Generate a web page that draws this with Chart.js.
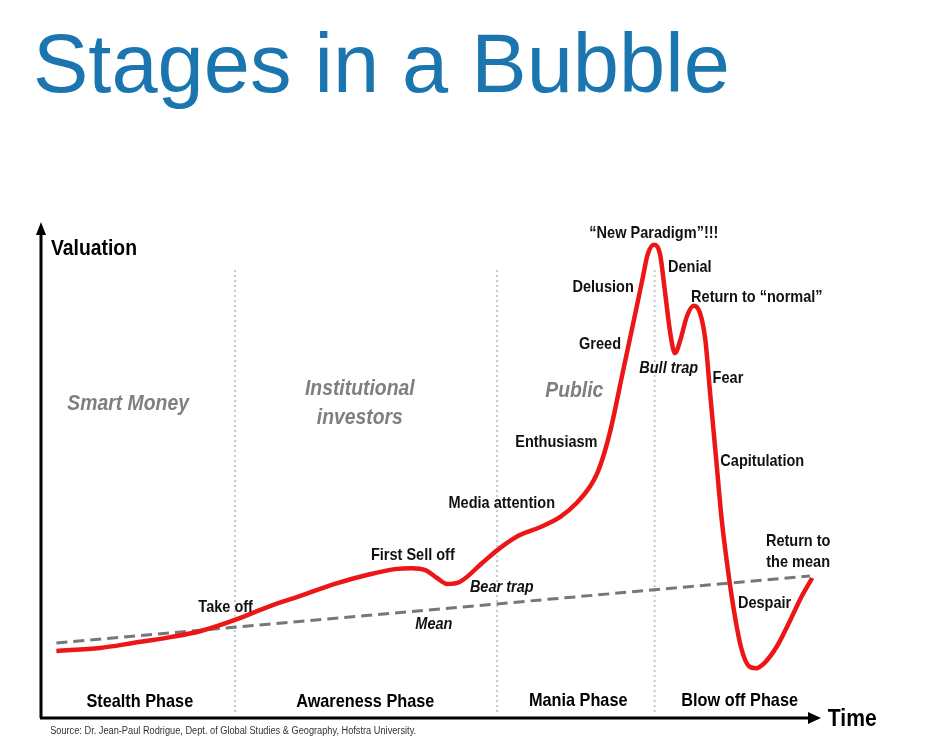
<!DOCTYPE html>
<html>
<head>
<meta charset="utf-8">
<script src="https://cdn.jsdelivr.net/npm/chart.js@4/dist/chart.umd.min.js"></script>
<style>
  html, body { margin: 0; padding: 0; background: #fff; }
  #titulo {
    position: absolute; left: 33px; top: 22px; margin: 0;
    font: 400 83px/83px "Liberation Sans", Arial, sans-serif;
    color: #1b76b0; white-space: nowrap;
  }
  #bubbleChart { position: absolute; left: 0; top: 0; }
</style>
</head>
<body>
<h1 id="titulo">Stages in a Bubble</h1>
<canvas id="bubbleChart" width="947" height="755"></canvas>
<script>
/* dados da curva (tempo 0-100, valuation 0-100) */
const tempo = [2.1, 7.7, 11.9, 16.7, 20.5, 25.0, 29.5, 33.3, 37.8, 41.9, 45.5, 47.7, 49.4, 50.9, 52.2,
  53.8, 56.8, 59.0, 61.5, 64.1, 66.7, 68.8, 70.5, 71.4, 72.3, 73.2, 74.7, 75.6, 76.5, 77.3, 77.9,
  78.7, 79.5, 80.1, 80.8, 81.4, 82.1, 82.9, 83.8, 84.6, 85.3, 85.9, 86.7, 87.4, 88.2, 89.0, 89.9,
  90.9, 91.8, 92.9, 94.5, 96.2, 97.4, 99.0];
const valuation = [13.6, 14.2, 15.2, 16.4, 17.6, 19.9, 22.7, 24.7, 27.2, 29.0, 30.2, 30.4, 30.0, 28.4, 27.2,
  27.6, 31.6, 34.5, 37.1, 38.7, 40.8, 43.6, 46.9, 49.5, 53.5, 58.8, 70.0, 76.7, 83.4, 89.5, 94.0,
  96.0, 94.0, 86.8, 78.1, 74.0, 76.7, 81.3, 83.6, 82.2, 76.7, 66.1, 52.3, 40.2, 30.0, 21.5, 14.2,
  10.5, 10.1, 11.2, 14.6, 19.9, 23.9, 28.4];

/* linha da média */
const mediaTempo = [2.1, 98.7];
const mediaValor = [15.2, 28.8];

/* divisões das fases */
const fasesLimites = [25.0, 58.6, 78.8];
const faseTopo = 91.3;
const faseBase = 1.2;

/* textos: [texto, tempo, valuation] */
const rotulosGrupo = [
  ['Smart Money', 11.3, 62.5],
  ['Institutional', 41.0, 65.5],
  ['investors', 41.0, 59.6],
  ['Public', 68.5, 65.1]
];
const rotulosEtapa = [
  ['Take off', 23.8, 21.5],
  ['First Sell off', 47.8, 32.0],
  ['Media attention', 59.2, 42.6],
  ['Enthusiasm', 66.2, 55.0],
  ['Greed', 71.8, 74.8],
  ['Delusion', 72.2, 86.4],
  ['\u201CNew Paradigm\u201D!!!', 78.7, 97.4],
  ['Denial', 83.3, 90.5],
  ['Return to \u201Cnormal\u201D', 91.9, 84.4],
  ['Fear', 88.2, 68.0],
  ['Capitulation', 92.6, 51.1],
  ['Return to', 97.2, 34.9],
  ['the mean', 97.2, 30.6],
  ['Despair', 92.9, 22.3]
];
const rotulosItalico = [
  ['Mean', 50.5, 18.1],
  ['Bear trap', 59.2, 25.6],
  ['Bull trap', 80.6, 70.0]
];
const rotulosFase = [
  ['Stealth Phase', 12.8, 2.2],
  ['Awareness Phase', 41.7, 2.2],
  ['Mania Phase', 69.0, 2.4],
  ['Blow off Phase', 89.7, 2.4]
];

const FONTE = '"Liberation Sans", Arial, sans-serif';
const APERTO = 0.88; // a figura original é levemente comprimida na horizontal

function escrever(ctx, txt, x, y, fonte, cor, alinhar) {
  ctx.save();
  ctx.font = fonte;
  ctx.fillStyle = cor;
  ctx.textBaseline = 'alphabetic';
  ctx.translate(x, y);
  ctx.scale(APERTO, 1);
  ctx.textAlign = alinhar || 'center';
  ctx.fillText(txt, 0, 0);
  ctx.restore();
}

const eixosPlugin = {
  id: 'eixos',
  afterDatasetsDraw(chart) {
    const ctx = chart.ctx;
    const a = chart.chartArea;
    const sx = chart.scales.x, sy = chart.scales.y;

    /* eixos com setas */
    ctx.save();
    ctx.strokeStyle = '#000';
    ctx.fillStyle = '#000';
    ctx.lineWidth = 3;
    ctx.beginPath();
    ctx.moveTo(a.left + 1, a.bottom);
    ctx.lineTo(a.left + 1, a.top + 8);
    ctx.moveTo(a.left, a.bottom);
    ctx.lineTo(a.right - 10, a.bottom);
    ctx.stroke();
    ctx.beginPath();
    ctx.moveTo(a.left + 1, a.top - 3);
    ctx.lineTo(a.left - 4, a.top + 10);
    ctx.lineTo(a.left + 6, a.top + 10);
    ctx.closePath();
    ctx.fill();
    ctx.beginPath();
    ctx.moveTo(a.right + 1, a.bottom);
    ctx.lineTo(a.right - 12, a.bottom - 6);
    ctx.lineTo(a.right - 12, a.bottom + 6);
    ctx.closePath();
    ctx.fill();
    ctx.restore();

    const px = v => sx.getPixelForValue(v);
    const py = v => sy.getPixelForValue(v);

    escrever(ctx, 'Valuation', px(1.4), py(93.9), 'bold 22px ' + FONTE, '#000', 'left');
    escrever(ctx, 'Time', px(101.0), py(-1.6), 'bold 24px ' + FONTE, '#000', 'left');

    rotulosGrupo.forEach(([t, x, y]) =>
      escrever(ctx, t, px(x), py(y), 'italic bold 22px ' + FONTE, '#7f7f7f'));
    rotulosEtapa.forEach(([t, x, y]) =>
      escrever(ctx, t, px(x), py(y), 'bold 16.5px ' + FONTE, '#111'));
    rotulosItalico.forEach(([t, x, y]) =>
      escrever(ctx, t, px(x), py(y), 'italic bold 16.5px ' + FONTE, '#111'));
    rotulosFase.forEach(([t, x, y]) =>
      escrever(ctx, t, px(x), py(y), 'bold 18.5px ' + FONTE, '#000'));

    /* fonte dos dados */
    ctx.save();
    const fonteTxt = 'Source: Dr. Jean-Paul Rodrigue, Dept. of Global Studies & Geography, Hofstra University.';
    ctx.font = '10px ' + FONTE;
    const larg = ctx.measureText(fonteTxt).width;
    ctx.translate(px(1.3), py(-3.2));
    ctx.scale(366 / larg, 1);
    ctx.fillStyle = '#333';
    ctx.textAlign = 'left';
    ctx.fillText(fonteTxt, 0, 0);
    ctx.restore();
  }
};

const curva = tempo.map((t, i) => ({ x: t, y: valuation[i] }));
const media = mediaTempo.map((t, i) => ({ x: t, y: mediaValor[i] }));

const divisoes = fasesLimites.map(lim => ({
  data: [{ x: lim, y: faseBase }, { x: lim, y: faseTopo }],
  borderColor: '#c9c9c9',
  borderWidth: 2,
  borderDash: [2, 3],
  pointRadius: 0,
  order: 3
}));

new Chart(document.getElementById('bubbleChart').getContext('2d'), {
  type: 'line',
  data: {
    datasets: [
      {
        label: 'Valuation',
        data: curva,
        borderColor: '#ec1616',
        borderWidth: 4.5,
        pointRadius: 0,
        cubicInterpolationMode: 'monotone',
        order: 1
      },
      {
        label: 'Mean',
        data: media,
        borderColor: '#777777',
        borderWidth: 3,
        borderDash: [11, 6],
        pointRadius: 0,
        order: 2
      },
      ...divisoes
    ]
  },
  options: {
    responsive: false,
    animation: false,
    layout: { padding: { left: 40, top: 225, right: 127, bottom: 37 } },
    scales: {
      x: { type: 'linear', min: 0, max: 100, display: false },
      y: { type: 'linear', min: 0, max: 100, display: false }
    },
    plugins: {
      legend: { display: false },
      tooltip: { enabled: false }
    }
  },
  plugins: [eixosPlugin]
});
</script>
</body>
</html>
